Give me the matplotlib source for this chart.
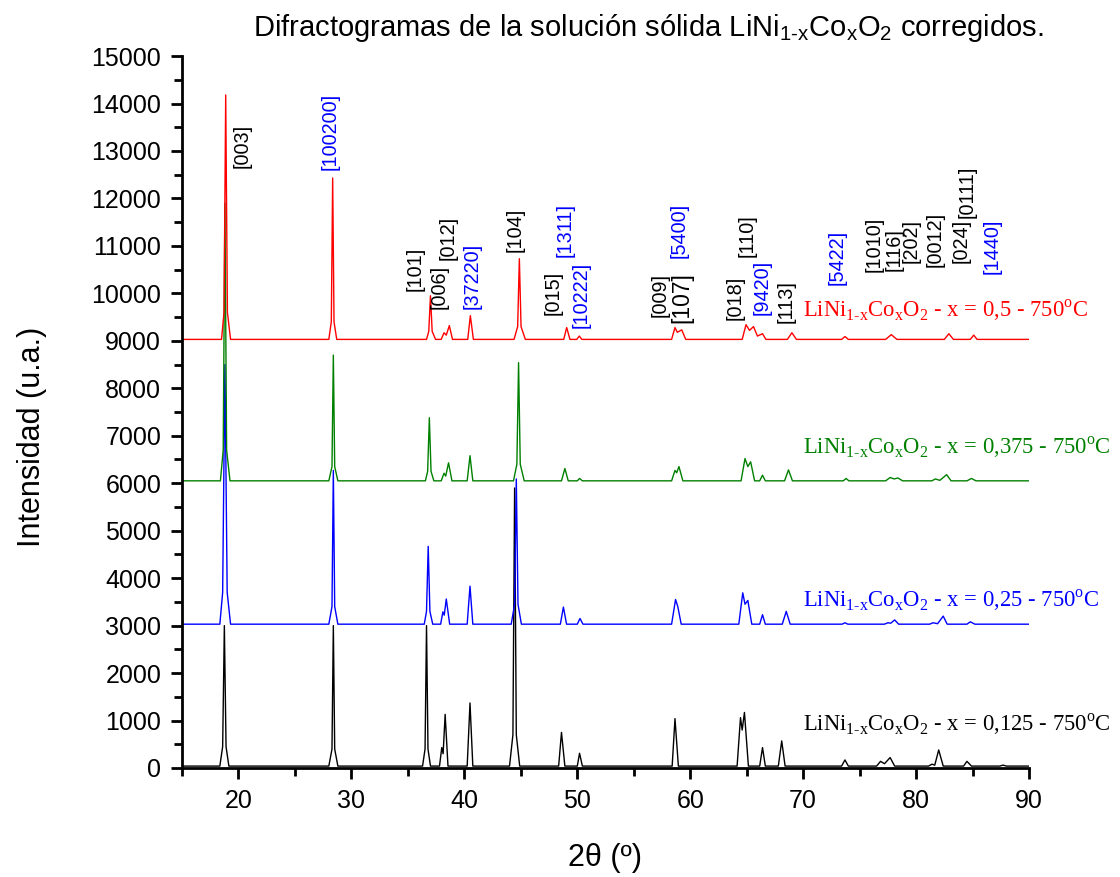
import matplotlib.pyplot as plt
from matplotlib.ticker import MultipleLocator

# ---- DATA (2theta in degrees, intensity in u.a., vertices) ----
tth_x0125 = [15.0, 18.35, 18.6, 18.75, 18.9, 19.15,
             28.0, 28.28, 28.4, 28.52, 28.8,
             36.3, 36.52, 36.65, 36.78, 37.0,
             37.8, 38.0, 38.12, 38.3, 38.55,
             40.25, 40.5, 40.75,
             44.0, 44.3, 44.45, 44.6, 44.9,
             48.35, 48.6, 48.9,
             50.0, 50.2, 50.45,
             58.4, 58.65, 58.95,
             64.15, 64.45, 64.6, 64.8, 65.15,
             66.15, 66.4, 66.65,
             67.8, 68.1, 68.4,
             73.4, 73.7, 74.0,
             76.5, 76.85, 77.2, 77.7, 78.1,
             81.1, 81.4, 81.65, 82.0, 82.4,
             84.2, 84.5, 84.9,
             87.4, 87.7, 88.0, 90.0]
int_x0125 = [40, 40, 450, 3000, 450, 40,
             40, 400, 3000, 400, 40,
             40, 400, 3000, 400, 40,
             40, 430, 300, 1130, 40,
             40, 1370, 40,
             40, 700, 5900, 700, 40,
             40, 750, 40,
             40, 310, 40,
             40, 1040, 40,
             40, 1060, 800, 1170, 40,
             40, 430, 40,
             40, 570, 40,
             40, 170, 40,
             40, 140, 90, 220, 40,
             40, 80, 60, 380, 40,
             40, 140, 40,
             40, 60, 40, 40]

tth_x025 = [15.0, 18.35, 18.6, 18.8, 19.0, 19.3,
            28.0, 28.28, 28.4, 28.52, 28.8,
            36.45, 36.65, 36.8, 36.95, 37.2,
            37.9, 38.1, 38.22, 38.4, 38.7,
            40.25, 40.5, 40.75,
            44.15, 44.45, 44.6, 44.75, 45.05,
            48.5, 48.77, 49.05,
            50.0, 50.24, 50.5,
            58.35, 58.7, 58.9, 59.2,
            64.3, 64.65, 64.85, 65.1, 65.45,
            66.15, 66.4, 66.65,
            68.15, 68.5, 68.85,
            73.45, 73.7, 73.95,
            77.2, 77.5, 77.75, 78.1, 78.45,
            81.2, 81.5, 81.9, 82.4, 82.75,
            84.5, 84.8, 85.2, 90.0]
int_x025 = [30, 30, 700, 5500, 700, 30,
            30, 400, 3270, 400, 30,
            30, 300, 1670, 300, 30,
            30, 290, 220, 560, 30,
            30, 830, 30,
            30, 450, 3090, 450, 30,
            30, 390, 30,
            30, 150, 30,
            30, 550, 400, 30,
            30, 690, 450, 530, 30,
            30, 230, 30,
            30, 300, 30,
            30, 60, 30,
            30, 60, 50, 120, 30,
            30, 60, 40, 200, 30,
            30, 80, 30, 30]

tth_x0375 = [15.0, 18.4, 18.65, 18.8, 18.95, 19.25,
             28.0, 28.28, 28.4, 28.52, 28.8,
             36.55, 36.75, 36.9, 37.05, 37.3,
             37.95, 38.2, 38.35, 38.6, 38.9,
             40.25, 40.5, 40.75,
             44.35, 44.65, 44.8, 44.95, 45.3,
             48.6, 48.9, 49.2,
             50.0, 50.2, 50.45,
             58.35, 58.65, 58.8, 59.0, 59.35,
             64.5, 64.85, 65.1, 65.35, 65.7,
             66.15, 66.4, 66.65,
             68.35, 68.7, 69.05,
             73.55, 73.8, 74.05,
             77.3, 77.7, 78.05, 78.4, 78.8,
             81.4, 81.7, 82.1, 82.7, 83.1,
             84.5, 84.9, 85.3, 90.0]
int_x0375 = [50, 50, 700, 5900, 700, 50,
             50, 350, 2700, 350, 50,
             50, 250, 1380, 250, 50,
             50, 210, 150, 430, 50,
             50, 580, 50,
             50, 400, 2540, 400, 50,
             50, 310, 50,
             50, 100, 50,
             50, 270, 220, 350, 50,
             50, 520, 350, 450, 50,
             50, 170, 50,
             50, 280, 50,
             50, 100, 50,
             50, 120, 90, 110, 50,
             50, 90, 60, 180, 50,
             50, 100, 50, 50]

tth_x05 = [15.0, 18.5, 18.72, 18.87, 19.02, 19.3,
           28.0, 28.22, 28.34, 28.46, 28.7,
           36.65, 36.85, 37.0, 37.15, 37.45,
           37.95, 38.2, 38.4, 38.67, 38.95,
           40.3, 40.53, 40.8,
           44.4, 44.72, 44.87, 45.02, 45.4,
           48.8, 49.06, 49.35,
           49.95, 50.18, 50.4,
           58.35, 58.65, 58.85, 59.25, 59.6,
           64.6, 64.94, 65.25, 65.6, 65.95, 66.4, 66.7,
           68.6, 69.0, 69.4,
           73.4, 73.7, 74.0,
           77.3, 77.8, 78.3,
           82.5, 82.9, 83.3,
           84.8, 85.1, 85.4, 90.0]
int_x05 = [30, 30, 600, 5180, 600, 30,
           30, 400, 3430, 400, 30,
           30, 200, 950, 200, 30,
           30, 170, 120, 320, 30,
           30, 530, 30,
           30, 300, 1730, 300, 30,
           30, 280, 30,
           30, 100, 30,
           30, 280, 180, 230, 30,
           30, 340, 220, 300, 100, 150, 30,
           30, 170, 30,
           30, 90, 30,
           30, 130, 30,
           30, 150, 30,
           30, 120, 30, 30]

offsets = [0, 3000, 6000, 9000]
x_values = ["0,125", "0,25", "0,375", "0,5"]
colors = ["black", "#0000ff", "#008000", "#ff0000"]
label_y = [925, 3540, 6760, 9640]

# Miller index labels: text, 2theta, intensity at lower end, blue or black
hkl_text = ["[003]", "[100200]", "[101]", "[006]", "[012]", "[37220]", "[104]",
            "[015]", "[1311]", "[10222]", "[009]", "[107]", "[5400]", "[018]",
            "[110]", "[9420]", "[113]", "[5422]", "[1010]", "[116]", "[202]",
            "[0012]", "[024]", "[0111]", "[1440]"]
hkl_pos = [20.3, 28.1, 35.6, 37.8, 38.6, 40.65, 44.5,
           47.9, 48.9, 50.3, 57.3, 59.25, 59.0, 63.95,
           65.0, 66.4, 68.5, 73.0, 76.3, 78.05, 79.6,
           81.7, 84.0, 84.5, 86.7]
hkl_int = [12650, 12590, 10060, 9660, 10700, 9660, 10880,
           9540, 10760, 9280, 9500, 9370, 10740, 9430,
           10760, 9540, 9370, 10170, 10440, 10480, 10630,
           10550, 10630, 11580, 10400]
hkl_blue = [False, True, False, False, False, True, False,
            False, True, True, False, False, True, False,
            False, True, False, True, False, False, False,
            False, False, False, True]

plt.rcParams["mathtext.fontset"] = "custom"
plt.rcParams["mathtext.rm"] = "Liberation Serif"
plt.rcParams["mathtext.sf"] = "Liberation Sans"
sans = "Liberation Sans"
HY = "\u2010"  # plain hyphen, mathtext would turn "-" into a spaced minus

fig = plt.figure(figsize=(11.2, 8.77), dpi=100)
ax = fig.add_axes([0.1625, 0.1243, 0.7563, 0.8118])

series = [(tth_x0125, int_x0125), (tth_x025, int_x025),
          (tth_x0375, int_x0375), (tth_x05, int_x05)]
for (tth, inten), off, col in zip(series, offsets, colors):
    ax.plot(tth, [v + off for v in inten], color=col, linewidth=1.0)

# series labels
for ly, xv, col in zip(label_y, x_values, colors):
    ax.text(70.0, ly,
            r"LiNi$_{\mathrm{1" + HY + r"x}}$Co$_{\mathrm{x}}$O$_{\mathrm{2}}$ - x = "
            + xv + r" - 750$^{\mathrm{o}}$C",
            color=col, fontsize=16.3, family="Liberation Serif", va="center")

for t, p, y, b in zip(hkl_text, hkl_pos, hkl_int, hkl_blue):
    ax.text(p, y, t, rotation=90, ha="center", va="bottom",
            fontsize=16.5 if t == "[107]" else 14.3, family=sans,
            color="#0000ff" if b else "black")

ax.set_xlim(15, 90)
ax.set_ylim(0, 15000)
ax.spines["top"].set_visible(False)
ax.spines["right"].set_visible(False)
for s in ["left", "bottom"]:
    ax.spines[s].set_linewidth(2)
ax.xaxis.set_major_locator(MultipleLocator(10))
ax.xaxis.set_minor_locator(MultipleLocator(5))
ax.yaxis.set_major_locator(MultipleLocator(1000))
ax.yaxis.set_minor_locator(MultipleLocator(500))
ax.tick_params(which="major", length=8, width=2, labelsize=18, pad=7, direction="out")
ax.tick_params(which="minor", length=6, width=2, direction="out")
for lbl in ax.get_xticklabels() + ax.get_yticklabels():
    lbl.set_family(sans)

fig.text(0.579, 0.968,
         r"Difractogramas de la solución sólida LiNi$_{\mathsf{1" + HY
         + r"x}}$Co$_{\mathsf{x}}$O$_{\mathsf{2}}$ corregidos.",
         ha="center", va="center", fontsize=21, family=sans)
fig.text(0.029, 0.502, "Intensidad (u.a.)", rotation=90, ha="center",
         va="center", fontsize=22, family=sans)
fig.text(0.540, 0.022, "2θ (º)", ha="center", va="center", fontsize=22,
         family=sans)

fig.savefig("out.png", dpi=100)
